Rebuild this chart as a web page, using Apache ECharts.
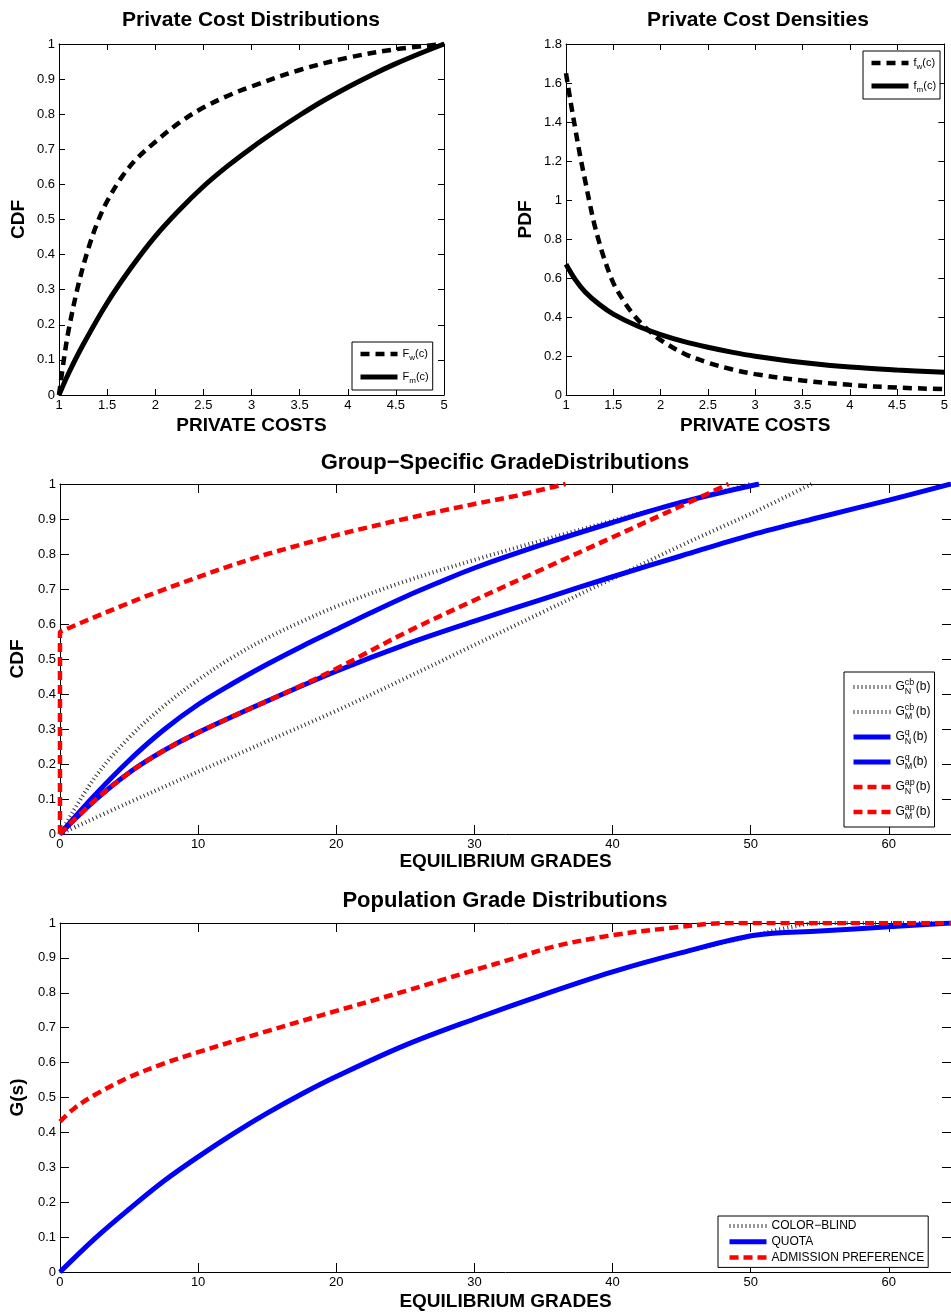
<!DOCTYPE html>
<html><head><meta charset="utf-8">
<script src="https://cdn.jsdelivr.net/npm/echarts@6/dist/echarts.min.js"></script>
<style>html,body{margin:0;padding:0;background:#fff}#c{width:951px;height:1312px}</style>
</head><body><div id="c"></div>
<script>
// ---------- data ----------
const fwCdf = [[1,0],[1.05,0.1],[1.1,0.185],[1.2,0.313],[1.3,0.413],[1.4,0.492],[1.5,0.552],[1.65,0.62],[1.8,0.671],[2,0.721],[2.25,0.776],[2.5,0.819],[2.75,0.852],[3,0.879],[3.5,0.926],[4,0.961],[4.5,0.985],[5,1]];
const fmCdf = [[1,0],[1.1,0.062],[1.25,0.143],[1.5,0.262],[1.75,0.363],[2,0.452],[2.25,0.527],[2.5,0.594],[2.75,0.652],[3,0.704],[3.25,0.752],[3.5,0.797],[3.75,0.839],[4,0.877],[4.25,0.912],[4.5,0.944],[4.75,0.973],[5,1]];
const fwPdf = [[1,1.65],[1.05,1.5],[1.1,1.36],[1.15,1.225],[1.2,1.105],[1.25,0.985],[1.3,0.875],[1.35,0.785],[1.4,0.705],[1.5,0.575],[1.6,0.49],[1.7,0.42],[1.8,0.365],[1.9,0.32],[2,0.282],[2.25,0.212],[2.5,0.166],[2.75,0.132],[3,0.107],[3.5,0.074],[4,0.052],[4.5,0.038],[5,0.03]];
const fmPdf = [[1,0.67],[1.1,0.59],[1.2,0.53],[1.35,0.465],[1.5,0.415],[1.75,0.355],[2,0.31],[2.25,0.274],[2.5,0.245],[2.75,0.22],[3,0.199],[3.5,0.167],[4,0.143],[4.5,0.128],[5,0.117]];

const gNcb = [[0,0],[2.5,0.16],[5,0.275],[7.5,0.365],[10,0.44],[12.5,0.505],[15,0.56],[17.5,0.607],[20,0.65],[25,0.722],[30,0.783],[35,0.84],[40,0.895],[45,0.948],[50,1]];
const gMcb = [[0,0],[5,0.09],[10,0.178],[15,0.265],[20,0.352],[25,0.445],[30,0.54],[35,0.635],[40,0.73],[45,0.825],[50,0.915],[54.4,1]];
const gNq = [[0,0],[2.5,0.11],[5,0.21],[7.5,0.297],[10,0.37],[12.5,0.43],[15,0.485],[17.5,0.536],[20,0.584],[22.5,0.632],[25,0.678],[27.5,0.72],[30,0.76],[35,0.828],[40,0.89],[45,0.948],[50.6,1]];
const gMq = [[0,0],[2.5,0.095],[5,0.175],[7.5,0.238],[10,0.29],[15,0.38],[20,0.465],[25,0.541],[30,0.608],[35,0.672],[40,0.735],[45,0.795],[50,0.854],[55,0.905],[60,0.954],[64.5,1]];
const gNap = [[0,0],[0,0.578],[3,0.628],[6,0.676],[9,0.72],[12,0.762],[15,0.8],[18,0.833],[21,0.864],[24,0.892],[27,0.918],[30,0.943],[33,0.966],[36.6,1]];
const gMap = [[0,0],[2.5,0.095],[5,0.175],[7.5,0.238],[10,0.29],[12.5,0.336],[15,0.38],[17.5,0.425],[20,0.472],[25,0.575],[30,0.668],[35,0.758],[40,0.848],[45,0.938],[48.4,1]];

const popCb = [[0,0],[2.5,0.095],[5,0.18],[7.5,0.26],[10,0.33],[12.5,0.395],[15,0.455],[17.5,0.51],[20,0.56],[25,0.65],[30,0.725],[35,0.795],[40,0.86],[45,0.915],[50,0.962],[52.5,0.985],[55,1],[64.5,1]];
const popQ = [[0,0],[2.5,0.095],[5,0.18],[7.5,0.26],[10,0.33],[12.5,0.395],[15,0.455],[17.5,0.51],[20,0.56],[25,0.65],[30,0.725],[35,0.795],[40,0.86],[45,0.915],[50.3,0.965],[55,0.977],[60,0.989],[64.5,1]];
const popAp = [[0,0.431],[1,0.468],[2.5,0.507],[5,0.558],[7.5,0.597],[10,0.63],[15,0.69],[20,0.748],[25,0.805],[30,0.865],[33,0.9],[36,0.935],[40,0.965],[44,0.985],[48.4,1],[64.5,1]];

const panelTitles = ['Private Cost Distributions','Private Cost Densities','Group\u2212Specific GradeDistributions','Population Grade Distributions'];
const xNames = ['PRIVATE COSTS','PRIVATE COSTS','EQUILIBRIUM GRADES','EQUILIBRIUM GRADES'];
const yNames = ['CDF','PDF','CDF','G(s)'];

// ---------- layout ----------
const FONT = '"Liberation Sans", Arial, Helvetica, sans-serif';
const grids = [
  {left:59, top:44, width:385, height:351},
  {left:566, top:44, width:385, height:351},
  {left:59, top:484, width:892, height:350},
  {left:59, top:923, width:892, height:350}
];
const xRange = [[1,5,0.5],[1,5,0.5],[0,64.5,10],[0,64.5,10]];
const yRange = [[0,1,0.1],[0,1.8,0.2],[0,1,0.1],[0,1,0.1]];
const tickFont = [13,13,13,13];
const tickLen = [6,6,9,9];
const xNameGap = [21,21,15,20];

const xAxis = [], yAxis = [];
grids.forEach((g, i) => {
  const common = {
    type:'value', gridIndex:i, splitLine:{show:false},
    axisLine:{show:true, onZero:false, lineStyle:{color:'#000', width:1}},
    axisTick:{show:true, inside:true, length:tickLen[i], lineStyle:{color:'#000', width:1}}
  };
  xAxis.push(Object.assign({}, common, {
    position:'bottom', min:xRange[i][0], max:xRange[i][1], interval:xRange[i][2],
    axisLabel:{show:true, color:'#000', fontSize:tickFont[i], fontFamily:FONT, margin:4, showMaxLabel: i>=2 ? false : true},
    name:xNames[i], nameLocation:'middle', nameGap:xNameGap[i],
    nameTextStyle:{fontSize:19, fontWeight:'bold', fontFamily:FONT, color:'#000', verticalAlign:'top'}
  }));
  xAxis.push(Object.assign({}, common, {
    position:'top', min:xRange[i][0], max:xRange[i][1], interval:xRange[i][2],
    axisLabel:{show:false}
  }));
  yAxis.push(Object.assign({}, common, {
    position:'left', min:yRange[i][0], max:yRange[i][1], interval:yRange[i][2],
    axisLabel:{show:true, color:'#000', fontSize:tickFont[i], fontFamily:FONT, margin:4},
    name:yNames[i], nameLocation:'middle', nameGap:31, nameRotate:90,
    nameTextStyle:{fontSize:19, fontWeight:'bold', fontFamily:FONT, color:'#000'}
  }));
  yAxis.push(Object.assign({}, common, {
    position:'right', min:yRange[i][0], max:yRange[i][1], interval:yRange[i][2],
    axisLabel:{show:false}
  }));
});

const titleCenters = [[251,10],[758,10],[505,452],[505,890]];
const titleSizes = [21,21,22,22];
const title = panelTitles.map((t, i) => ({
  text:t, left:titleCenters[i][0]-5, top:titleCenters[i][1]-5, textAlign:'center',
  textStyle:{fontSize:titleSizes[i], fontWeight:'bold', fontFamily:FONT, color:'#000'}
}));

// ---------- series ----------
const BLACK_DASH = {color:'#000', width:4.5, type:[9,6], cap:'butt'};
const BLACK_SOLID = {color:'#000', width:5, type:'solid'};
const DOT = {color:'#333', width:4, type:[1,3], cap:'butt'};
const BLUE = {color:'#0000ff', width:5, type:'solid'};
const RED = {color:'#ff0000', width:4.5, type:[9,5], cap:'butt'};

function line(name, data, gi, ls, smooth) {
  return {
    name, type:'line', data, xAxisIndex:gi*2, yAxisIndex:gi*2, symbol:'none',
    smooth: smooth === false ? false : 0.35,
    lineStyle: ls, itemStyle:{color: ls.color}, emphasis:{disabled:true}, animation:false
  };
}
const series = [
  line('F_w(c)', fwCdf, 0, BLACK_DASH),
  line('F_m(c)', fmCdf, 0, BLACK_SOLID),
  line('f_w(c)', fwPdf, 1, BLACK_DASH),
  line('f_m(c)', fmPdf, 1, BLACK_SOLID),
  line('G_N^cb(b)', gNcb, 2, DOT),
  line('G_M^cb(b)', gMcb, 2, DOT),
  line('G_N^q(b)', gNq, 2, BLUE),
  line('G_M^q(b)', gMq, 2, BLUE),
  line('G_N^ap(b)', gNap, 2, RED, false),
  line('G_M^ap(b)', gMap, 2, RED),
  line('COLOR\u2212BLIND', popCb, 3, DOT),
  line('QUOTA', popQ, 3, BLUE),
  line('ADMISSION PREFERENCE', popAp, 3, RED)
];

// ---------- legends ----------
const richLabel = {
  'F_w(c)': '{n|F}{sb|w}{n|(c)}',
  'F_m(c)': '{n|F}{sb|m}{n|(c)}',
  'f_w(c)': '{n|f}{sb|w}{n|(c)}',
  'f_m(c)': '{n|f}{sb|m}{n|(c)}',
  'G_N^cb(b)': '{g|G}{sp|cb}{sbw|N}{g|(b)}',
  'G_M^cb(b)': '{g|G}{sp|cb}{sbw|M}{g|(b)}',
  'G_N^q(b)': '{g|G}{sp|q}{sbn|N}{g|(b)}',
  'G_M^q(b)': '{g|G}{sp|q}{sbn|M}{g|(b)}',
  'G_N^ap(b)': '{g|G}{sp|ap}{sbw|N}{g|(b)}',
  'G_M^ap(b)': '{g|G}{sp|ap}{sbw|M}{g|(b)}'
};
const rich = {
  n:{fontSize:11, fontFamily:FONT, color:'#000', lineHeight:14},
  sb:{fontSize:8, fontFamily:FONT, color:'#000', lineHeight:14, padding:[8,0,0,0]},
  g:{fontSize:12, fontFamily:FONT, color:'#000', lineHeight:16},
  sp:{fontSize:9, fontFamily:FONT, color:'#000', lineHeight:16, width:0, align:'left', padding:[0,0,9,0]},
  sbw:{fontSize:9, fontFamily:FONT, color:'#000', lineHeight:16, width:11, align:'left', padding:[9,0,0,0]},
  sbn:{fontSize:9, fontFamily:FONT, color:'#000', lineHeight:16, width:8, align:'left', padding:[9,0,0,0]}
};
function legend(names, left, top, itemGap, padding, itemHeight) {
  return {
    data:names, orient:'vertical', left, top, itemWidth:37, itemHeight:itemHeight, itemGap,
    padding, borderColor:'#000', borderWidth:1, backgroundColor:'#fff', borderRadius:0,
    selectedMode:false,
    itemStyle:{opacity:0, borderWidth:0},
    lineStyle:{width:'inherit', type:'inherit', color:'inherit'},
    textStyle:{fontSize:12, fontFamily:FONT, color:'#000', rich},
    formatter: name => richLabel[name] || name
  };
}
const legends = [
  legend(['F_w(c)','F_m(c)'], 352, 342, 7, [4,4,5,6], 10),
  legend(['f_w(c)','f_m(c)'], 863, 51, 7, [4,4,5,6], 10),
  legend(['G_N^cb(b)','G_M^cb(b)','G_N^q(b)','G_M^q(b)','G_N^ap(b)','G_M^ap(b)'], 844, 672, 7, [6,4,6,7], 10),
  legend(['COLOR\u2212BLIND','QUOTA','ADMISSION PREFERENCE'], 718, 1216, 3.7, [4,4,4,9], 10)
];

const chart = echarts.init(document.getElementById('c'), null, {renderer:'canvas', width:951, height:1312});
chart.setOption({
  animation:false,
  backgroundColor:'#fff',
  title, grid:grids, xAxis, yAxis, legend:legends, series
});
</script></body></html>
